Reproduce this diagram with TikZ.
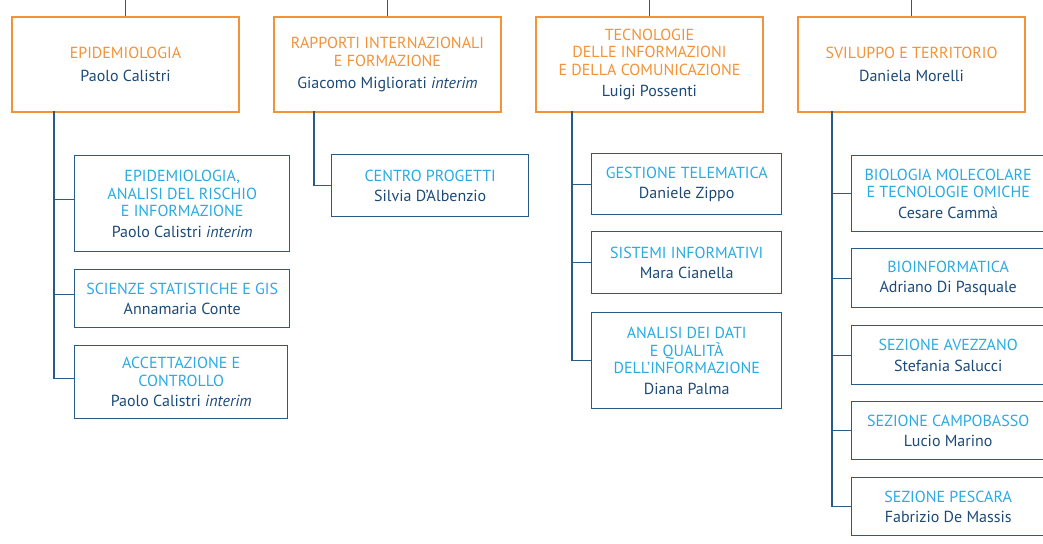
\documentclass[tikz,border=0pt]{standalone}
\usepackage{fontspec}
\setmainfont{PT Sans}
\definecolor{areaorange}{HTML}{F39237}
\definecolor{unitblue}{HTML}{29ABE2}
\definecolor{navy}{HTML}{1C4A78}
\definecolor{boxblue}{HTML}{2A5A88}
\newcommand{\areaname}[1]{\textcolor{areaorange}{#1}}
\newcommand{\unitname}[1]{\textcolor{unitblue}{#1}}

\begin{document}
\begin{tikzpicture}[x=1pt,y=-1pt,
    font=\fontsize{16}{17.5}\selectfont,
    areabox/.style={draw=areaorange, line width=2pt, inner sep=0pt, anchor=north west,
        align=center, text=navy, minimum width=227pt, minimum height=95pt},
    unitbox/.style={draw=boxblue, line width=1.4pt, inner sep=0pt, anchor=north west,
        align=center, text=navy},
    link/.style={draw=boxblue, line width=1.4pt}]
    \useasboundingbox (0,0) rectangle (1043,543);

    % areas
    \node[areabox] (epi) at (11,16) {\areaname{EPIDEMIOLOGIA}\\[5pt] Paolo Calistri};
    \node[areabox] (rap) at (273,16) {\areaname{RAPPORTI INTERNAZIONALI}\\ \areaname{E FORMAZIONE}\\[5pt] Giacomo Migliorati \textit{interim}};
    \node[areabox] (tec) at (535,16) {\areaname{TECNOLOGIE}\\ \areaname{DELLE INFORMAZIONI}\\ \areaname{E DELLA COMUNICAZIONE}\\[4pt] Luigi Possenti};
    \node[areabox] (svi) at (797,16) {\areaname{SVILUPPO E TERRITORIO}\\[5pt] Daniela Morelli};

    % units
    \node[unitbox, minimum width=215pt, minimum height=96pt] (epiA) at (74,155) {\unitname{EPIDEMIOLOGIA,}\\ \unitname{ANALISI DEL RISCHIO}\\ \unitname{E INFORMAZIONE}\\[3pt] Paolo Calistri \textit{interim}};
    \node[unitbox, minimum width=215pt, minimum height=58pt] (epiB) at (74,269) {\unitname{SCIENZE STATISTICHE E GIS}\\[3pt] Annamaria Conte};
    \node[unitbox, minimum width=213pt, minimum height=73pt] (epiC) at (74,345) {\unitname{ACCETTAZIONE E}\\ \unitname{CONTROLLO}\\[3pt] Paolo Calistri \textit{interim}};

    \node[unitbox, minimum width=197pt, minimum height=62pt] (rapA) at (331,154) {\unitname{CENTRO PROGETTI}\\[3pt] Silvia D’Albenzio};

    \node[unitbox, minimum width=190pt, minimum height=61pt] (tecA) at (591,153) {\unitname{GESTIONE TELEMATICA}\\[3pt] Daniele Zippo};
    \node[unitbox, minimum width=190pt, minimum height=62pt] (tecB) at (591,231) {\unitname{SISTEMI INFORMATIVI}\\[3pt] Mara Cianella};
    \node[unitbox, minimum width=190pt, minimum height=96pt] (tecC) at (591,312) {\unitname{ANALISI DEI DATI}\\ \unitname{E QUALITÀ}\\ \unitname{DELL’INFORMAZIONE}\\[3pt] Diana Palma};

    \node[unitbox, minimum width=193pt, minimum height=76pt] (sviA) at (851,155) {\unitname{BIOLOGIA MOLECOLARE}\\ \unitname{E TECNOLOGIE OMICHE}\\[3pt] Cesare Cammà};
    \node[unitbox, minimum width=193pt, minimum height=59pt] (sviB) at (851,248) {\unitname{BIOINFORMATICA}\\[3pt] Adriano Di Pasquale};
    \node[unitbox, minimum width=193pt, minimum height=59pt] (sviC) at (851,325) {\unitname{SEZIONE AVEZZANO}\\[3pt] Stefania Salucci};
    \node[unitbox, minimum width=193pt, minimum height=58pt] (sviD) at (851,401) {\unitname{SEZIONE CAMPOBASSO}\\[3pt] Lucio Marino};
    \node[unitbox, minimum width=193pt, minimum height=58pt] (sviE) at (851,477) {\unitname{SEZIONE PESCARA}\\[3pt] Fabrizio De Massis};

    % lines from the top
    \foreach \area in {epi,rap,tec,svi}
        \draw[link] (\area.north) -- (\area.north |- 0,0);

    % trunks
    \coordinate (epiT) at (54,111);
    \coordinate (rapT) at (314,111);
    \coordinate (tecT) at (572,111);
    \coordinate (sviT) at (832,111);

    \foreach \unit in {epiA,epiB,epiC}
        \draw[link] (epiT) |- ([yshift=4pt]\unit.west);
    \draw[link] (rapT) |- (rapA.west);
    \foreach \unit in {tecA,tecB,tecC}
        \draw[link] (tecT) |- (\unit.west);
    \foreach \unit in {sviA,sviB,sviC,sviD,sviE}
        \draw[link] (sviT) |- (\unit.west);
\end{tikzpicture}
\end{document}
